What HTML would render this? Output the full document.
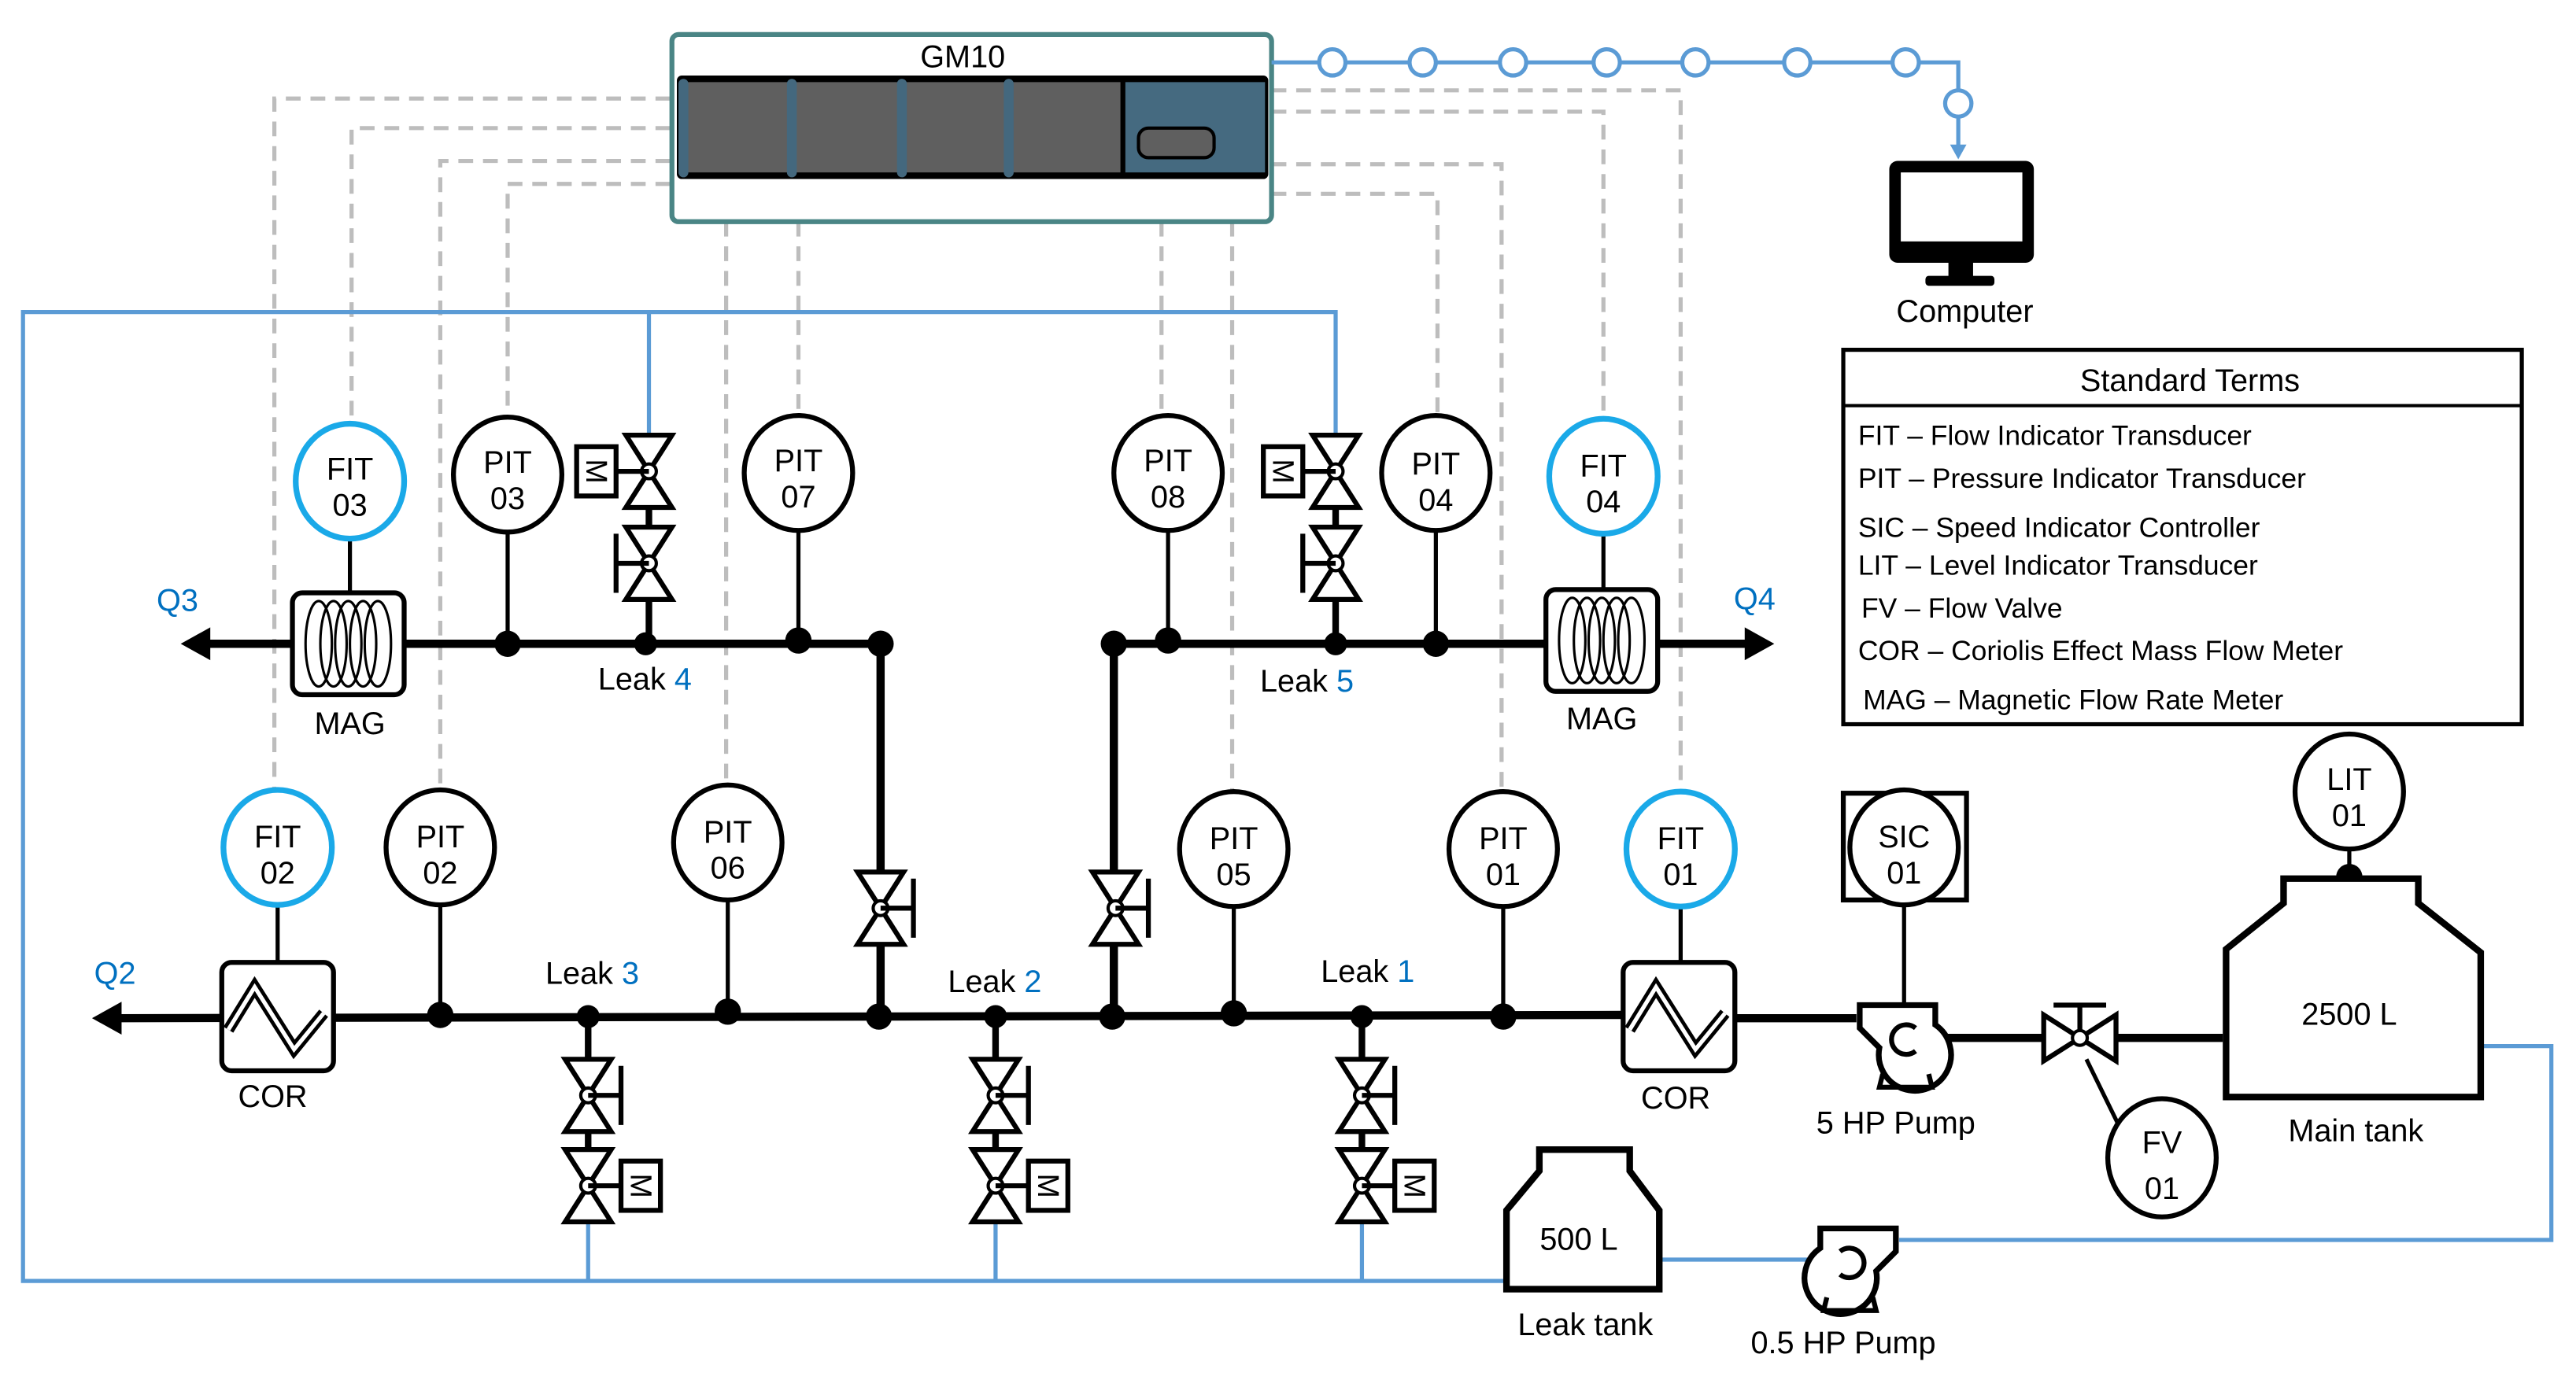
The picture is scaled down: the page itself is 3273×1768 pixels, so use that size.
<!DOCTYPE html>
<html><head><meta charset="utf-8"><style>
html,body{margin:0;padding:0;background:#fff;}
svg{display:block;}
text{font-family:"Liberation Sans",sans-serif;font-size:19px;fill:#000;}
.c{text-anchor:middle;}
.b{fill:#0070c0;}
</style></head><body>
<svg width="3273" height="1768" viewBox="0 0 1568 847" preserveAspectRatio="none" xmlns="http://www.w3.org/2000/svg">
<defs>
<g id="vv"><polygon points="-14,-22 14,-22 0,0" fill="#fff" stroke="#000" stroke-width="3" stroke-linejoin="miter"/><polygon points="-14,22 14,22 0,0" fill="#fff" stroke="#000" stroke-width="3"/><circle r="4.5" fill="#fff" stroke="#000" stroke-width="2"/></g>
<g id="hwL"><line x1="0" y1="0" x2="-20" y2="0" stroke="#000" stroke-width="3"/><line x1="-20" y1="-18" x2="-20" y2="18" stroke="#000" stroke-width="3"/></g>
<g id="hwR"><line x1="0" y1="0" x2="20" y2="0" stroke="#000" stroke-width="3"/><line x1="20" y1="-18" x2="20" y2="18" stroke="#000" stroke-width="3"/></g>
<g id="mL"><line x1="0" y1="0" x2="-20" y2="0" stroke="#000" stroke-width="3"/><rect x="-44" y="-15" width="24" height="30" fill="#fff" stroke="#000" stroke-width="3"/><text transform="translate(-32,0) rotate(90)" class="c" y="6" style="font-size:18px">M</text></g>
<g id="mR"><line x1="0" y1="0" x2="20" y2="0" stroke="#000" stroke-width="3"/><rect x="20" y="-15" width="24" height="30" fill="#fff" stroke="#000" stroke-width="3"/><text transform="translate(32,0) rotate(90)" class="c" y="6" style="font-size:18px">M</text></g>
<g id="mag"><rect x="-34" y="-31" width="68" height="62" rx="6" fill="#fff" stroke="#000" stroke-width="3"/>
<g fill="none" stroke="#000" stroke-width="1.5"><ellipse cx="-18" cy="0" rx="8" ry="26"/><ellipse cx="-9" cy="0" rx="8" ry="26"/><ellipse cx="0" cy="0" rx="8" ry="26"/><ellipse cx="9" cy="0" rx="8" ry="26"/><ellipse cx="18" cy="0" rx="8" ry="26"/></g></g>
<g id="cor"><rect x="-34" y="-33" width="68" height="66" rx="6" fill="#fff" stroke="#000" stroke-width="3"/>
<polyline points="-30,8 -14,-18 10,20 28,-2" fill="none" stroke="#000" stroke-width="7"/><polyline points="-30,8 -14,-18 10,20 28,-2" fill="none" stroke="#fff" stroke-width="2.5"/></g>
<g id="pump"><path d="M-26,-20 L20,-20 L20,-8 A22,22 0 1 1 -14,6 L-26,-6 Z" fill="#fff" stroke="#000" stroke-width="3.5"/><path d="M8,-6 A9,9 0 1 0 8,8" fill="none" stroke="#000" stroke-width="3"/><path d="M-12,22 L-14,30 L18,30 L16,22" fill="none" stroke="#000" stroke-width="3"/></g>
</defs>

<g fill="none" stroke="#bdbdbd" stroke-width="2.5" stroke-dasharray="9 6">
<polyline points="408,60 167,60 167,484"/>
<polyline points="408,78 214,78 214,260"/>
<polyline points="408,98 268,98 268,484"/>
<polyline points="408,112 309,112 309,256"/>
<line x1="442" y1="135" x2="442" y2="480"/>
<line x1="486" y1="135" x2="486" y2="254"/>
<line x1="707" y1="135" x2="707" y2="254"/>
<line x1="750" y1="135" x2="750" y2="484"/>
<polyline points="774,55 1023,55 1023,484"/>
<polyline points="774,68 976,68 976,256"/>
<polyline points="774,100 914,100 914,484"/>
<polyline points="774,118 875,118 875,256"/>
</g>

<rect x="409" y="21" width="365" height="114" rx="4" fill="#fff" stroke="#4a8585" stroke-width="3"/>
<text x="586" y="41" class="c">GM10</text>
<rect x="412" y="46" width="360" height="63" rx="3" fill="#000"/>
<rect x="416" y="50" width="266" height="55" fill="#5f5f5f"/>
<rect x="685" y="50" width="85" height="55" fill="#456a80"/>
<g fill="#44687e"><rect x="413" y="48" width="6" height="60" rx="3"/><rect x="479" y="48" width="6" height="60" rx="3"/><rect x="546" y="48" width="6" height="60" rx="3"/><rect x="611" y="48" width="6" height="60" rx="3"/></g>
<rect x="693" y="78" width="46" height="18" rx="6" fill="#5f5f5f" stroke="#000" stroke-width="2"/>

<polyline points="774,38 1192,38 1192,90" fill="none" stroke="#5b9bd5" stroke-width="2.5"/>
<polygon points="1187,88 1197,88 1192,97" fill="#5b9bd5"/>
<g fill="#fff" stroke="#5b9bd5" stroke-width="2.5"><circle cx="811" cy="38" r="8"/><circle cx="866" cy="38" r="8"/><circle cx="921" cy="38" r="8"/><circle cx="978" cy="38" r="8"/><circle cx="1032" cy="38" r="8"/><circle cx="1094" cy="38" r="8"/><circle cx="1160" cy="38" r="8"/><circle cx="1192" cy="63" r="8"/></g>
<rect x="1150" y="98" width="88" height="62" rx="5" fill="#000"/>
<rect x="1157" y="105" width="74" height="42" fill="#fff"/>
<rect x="1186" y="160" width="15" height="9" fill="#000"/>
<rect x="1172" y="168" width="42" height="6" rx="2" fill="#000"/>
<text x="1196" y="196" class="c">Computer</text>

<g fill="none" stroke="#5b9bd5" stroke-width="2.5">
<polyline points="813,265 813,190 14,190 14,780 917,780"/>
<line x1="395" y1="190" x2="395" y2="266"/>
<line x1="358" y1="744" x2="358" y2="780"/>
<line x1="606" y1="744" x2="606" y2="780"/>
<line x1="829" y1="744" x2="829" y2="780"/>
<polyline points="1510,637 1553,637 1553,755 1156,755"/>
<line x1="1010" y1="767" x2="1100" y2="767"/>
</g>

<g stroke="#000" stroke-width="5" fill="none">
<line x1="124" y1="392" x2="536" y2="392"/>
<line x1="536" y1="392" x2="536" y2="620"/>
<line x1="678" y1="392" x2="1066" y2="392"/>
<line x1="678" y1="392" x2="678" y2="620"/>
<line x1="70" y1="620" x2="988" y2="618"/>
<line x1="1057" y1="620" x2="1130" y2="620"/>
<line x1="1185" y1="632" x2="1353" y2="632"/>
<line x1="395" y1="266" x2="395" y2="392" stroke-width="4"/>
<line x1="813" y1="266" x2="813" y2="392" stroke-width="4"/>
<line x1="358" y1="620" x2="358" y2="744" stroke-width="4"/>
<line x1="606" y1="620" x2="606" y2="744" stroke-width="4"/>
<line x1="829" y1="620" x2="829" y2="744" stroke-width="4"/>
</g>
<polygon points="110,392 128,382 128,402" fill="#000"/>
<polygon points="1080,392 1062,382 1062,402" fill="#000"/>
<polygon points="56,620 74,610 74,630" fill="#000"/>

<g stroke="#000" stroke-width="2.5">
<line x1="213" y1="328" x2="213" y2="361"/><line x1="309" y1="324" x2="309" y2="392"/><line x1="486" y1="323" x2="486" y2="390"/>
<line x1="711" y1="323" x2="711" y2="390"/><line x1="874" y1="323" x2="874" y2="392"/><line x1="976" y1="325" x2="976" y2="358"/>
<line x1="169" y1="551" x2="169" y2="586"/><line x1="268" y1="551" x2="268" y2="618"/><line x1="443" y1="548" x2="443" y2="616"/>
<line x1="751" y1="552" x2="751" y2="617"/><line x1="915" y1="552" x2="915" y2="619"/><line x1="1023" y1="552" x2="1023" y2="586"/>
<line x1="1159" y1="550" x2="1159" y2="612"/><line x1="1430" y1="517" x2="1430" y2="534"/>
<line x1="1270" y1="645" x2="1292" y2="690"/>
</g>
<g fill="#000">
<circle cx="309" cy="392" r="8"/><circle cx="393" cy="392" r="7"/><circle cx="486" cy="390" r="8"/><circle cx="536" cy="392" r="8"/>
<circle cx="678" cy="392" r="8"/><circle cx="711" cy="390" r="8"/><circle cx="813" cy="392" r="7"/><circle cx="874" cy="392" r="8"/>
<circle cx="268" cy="618" r="8"/><circle cx="358" cy="619" r="7"/><circle cx="443" cy="616" r="8"/><circle cx="535" cy="619" r="8"/>
<circle cx="606" cy="619" r="7"/><circle cx="677" cy="619" r="8"/><circle cx="751" cy="617" r="8"/><circle cx="829" cy="619" r="7"/><circle cx="915" cy="619" r="8"/>
<circle cx="1430" cy="534" r="8"/>
</g>

<use href="#vv" x="395" y="287"/><use href="#mL" x="395" y="287"/>
<use href="#vv" x="395" y="343"/><use href="#hwL" x="395" y="343"/>
<use href="#vv" x="813" y="287"/><use href="#mL" x="813" y="287"/>
<use href="#vv" x="813" y="343"/><use href="#hwL" x="813" y="343"/>
<use href="#vv" x="536" y="553"/><use href="#hwR" x="536" y="553"/>
<use href="#vv" x="679" y="553"/><use href="#hwR" x="679" y="553"/>
<use href="#vv" x="358" y="667"/><use href="#hwR" x="358" y="667"/>
<use href="#vv" x="358" y="722"/><use href="#mR" x="358" y="722"/>
<use href="#vv" x="606" y="667"/><use href="#hwR" x="606" y="667"/>
<use href="#vv" x="606" y="722"/><use href="#mR" x="606" y="722"/>
<use href="#vv" x="829" y="667"/><use href="#hwR" x="829" y="667"/>
<use href="#vv" x="829" y="722"/><use href="#mR" x="829" y="722"/>
<g transform="translate(1266,632) rotate(90)"><use href="#vv"/></g>
<line x1="1266" y1="628" x2="1266" y2="612" stroke="#000" stroke-width="3"/>
<line x1="1250" y1="612" x2="1282" y2="612" stroke="#000" stroke-width="3"/>

<use href="#mag" x="212" y="392"/><use href="#mag" x="975" y="390"/>
<use href="#cor" x="169" y="619"/><use href="#cor" x="1022" y="619"/>
<use href="#pump" x="1158" y="632"/>
<g transform="translate(1128,768) scale(-1,1)"><use href="#pump"/></g>

<g fill="#fff" stroke="#000" stroke-width="3">
<ellipse cx="309" cy="289" rx="33" ry="35"/><ellipse cx="486" cy="288" rx="33" ry="35"/><ellipse cx="711" cy="288" rx="33" ry="35"/><ellipse cx="874" cy="288" rx="33" ry="35"/>
<ellipse cx="268" cy="516" rx="33" ry="35"/><ellipse cx="443" cy="513" rx="33" ry="35"/><ellipse cx="751" cy="517" rx="33" ry="35"/><ellipse cx="915" cy="517" rx="33" ry="35"/>
<ellipse cx="1430" cy="482" rx="33" ry="35"/><ellipse cx="1316" cy="705" rx="33" ry="36"/>
<rect x="1122" y="483" width="75" height="65"/><ellipse cx="1159" cy="516" rx="33" ry="35"/>
</g>
<g fill="#fff" stroke="#1aa9e8" stroke-width="3.5">
<ellipse cx="213" cy="293" rx="33" ry="35"/><ellipse cx="976" cy="290" rx="33" ry="35"/><ellipse cx="169" cy="516" rx="33" ry="35"/><ellipse cx="1023" cy="517" rx="33" ry="35"/>
</g>
<g>
<text x="213" y="292" class="c">FIT</text><text x="213" y="314" class="c">03</text>
<text x="309" y="288" class="c">PIT</text><text x="309" y="310" class="c">03</text>
<text x="486" y="287" class="c">PIT</text><text x="486" y="309" class="c">07</text>
<text x="711" y="287" class="c">PIT</text><text x="711" y="309" class="c">08</text>
<text x="874" y="289" class="c">PIT</text><text x="874" y="311" class="c">04</text>
<text x="976" y="290" class="c">FIT</text><text x="976" y="312" class="c">04</text>
<text x="169" y="516" class="c">FIT</text><text x="169" y="538" class="c">02</text>
<text x="268" y="516" class="c">PIT</text><text x="268" y="538" class="c">02</text>
<text x="443" y="513" class="c">PIT</text><text x="443" y="535" class="c">06</text>
<text x="751" y="517" class="c">PIT</text><text x="751" y="539" class="c">05</text>
<text x="915" y="517" class="c">PIT</text><text x="915" y="539" class="c">01</text>
<text x="1023" y="517" class="c">FIT</text><text x="1023" y="539" class="c">01</text>
<text x="1159" y="516" class="c">SIC</text><text x="1159" y="538" class="c">01</text>
<text x="1430" y="481" class="c">LIT</text><text x="1430" y="503" class="c">01</text>
<text x="1316" y="702" class="c">FV</text><text x="1316" y="730" class="c">01</text>
</g>

<polygon points="1355,668 1355,578 1390,550 1390,535 1472,535 1472,550 1510,580 1510,668" fill="#fff" stroke="#000" stroke-width="4"/>
<text x="1430" y="624" class="c">2500 L</text>
<text x="1434" y="695" class="c">Main tank</text>
<polygon points="917,785 917,737 937,713 937,700 992,700 992,713 1010,737 1010,785" fill="#fff" stroke="#000" stroke-width="4"/>
<text x="961" y="761" class="c">500 L</text>
<text x="965" y="813" class="c">Leak tank</text>
<text x="1154" y="690" class="c">5 HP Pump</text>
<text x="1122" y="824" class="c">0.5 HP Pump</text>

<text x="213" y="447" class="c">MAG</text><text x="975" y="444" class="c">MAG</text>
<text x="166" y="674" class="c">COR</text><text x="1020" y="675" class="c">COR</text>
<text x="108" y="372" class="c b">Q3</text><text x="1068" y="371" class="c b">Q4</text><text x="70" y="599" class="c b">Q2</text>
<text x="364" y="420">Leak <tspan class="b">4</tspan></text>
<text x="767" y="421">Leak <tspan class="b">5</tspan></text>
<text x="332" y="599">Leak <tspan class="b">3</tspan></text>
<text x="577" y="604">Leak <tspan class="b">2</tspan></text>
<text x="804" y="598">Leak <tspan class="b">1</tspan></text>

<rect x="1122" y="213" width="413" height="228" fill="#fff" stroke="#000" stroke-width="2.5"/>
<line x1="1122" y1="247" x2="1535" y2="247" stroke="#000" stroke-width="2"/>
<text x="1333" y="238" class="c">Standard Terms</text>
<text x="1131" y="271" style="font-size:17px">FIT – Flow Indicator Transducer</text>
<text x="1131" y="297" style="font-size:17px">PIT – Pressure Indicator Transducer</text>
<text x="1131" y="327" style="font-size:17px">SIC – Speed Indicator Controller</text>
<text x="1131" y="350" style="font-size:17px">LIT – Level Indicator Transducer</text>
<text x="1133" y="376" style="font-size:17px">FV –  Flow Valve</text>
<text x="1131" y="402" style="font-size:17px">COR – Coriolis Effect Mass Flow Meter</text>
<text x="1134" y="432" style="font-size:17px">MAG – Magnetic Flow Rate Meter</text>
</svg>
</body></html>
